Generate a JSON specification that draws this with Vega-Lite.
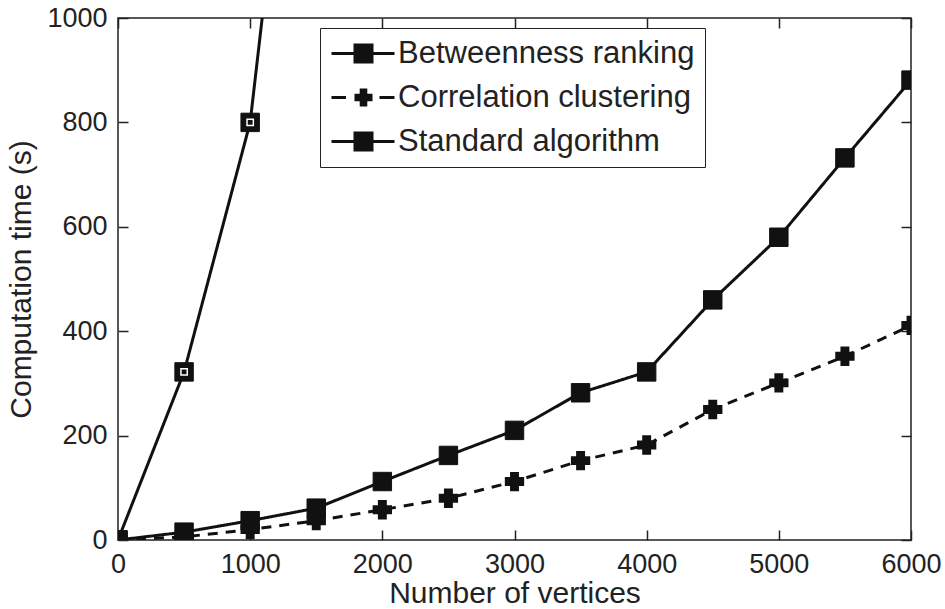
{
  "$schema": "https://vega.github.io/schema/vega-lite/v6.json",
  "width": 793,
  "height": 522,
  "autosize": "none",
  "padding": {"left": 118, "top": 18, "right": 34, "bottom": 69},
  "background": "white",
  "config": {
    "view": {"stroke": "#222", "strokeWidth": 1.5},
    "font": "Liberation Sans",
    "axis": {
      "grid": false,
      "domain": false,
      "tickColor": "#222",
      "tickWidth": 1.5,
      "labelFont": "Liberation Sans",
      "labelFontSize": 27,
      "labelColor": "#222",
      "titleFont": "Liberation Sans",
      "titleFontSize": 30,
      "titleFontWeight": "normal",
      "titleColor": "#222"
    }
  },
  "data": {
    "values": [
      {"series": "Betweenness ranking", "x": 0, "y": 0},
      {"series": "Betweenness ranking", "x": 500, "y": 15},
      {"series": "Betweenness ranking", "x": 1000, "y": 37},
      {"series": "Betweenness ranking", "x": 1500, "y": 61},
      {"series": "Betweenness ranking", "x": 2000, "y": 112},
      {"series": "Betweenness ranking", "x": 2500, "y": 162},
      {"series": "Betweenness ranking", "x": 3000, "y": 210},
      {"series": "Betweenness ranking", "x": 3500, "y": 282},
      {"series": "Betweenness ranking", "x": 4000, "y": 322},
      {"series": "Betweenness ranking", "x": 4500, "y": 460},
      {"series": "Betweenness ranking", "x": 5000, "y": 580},
      {"series": "Betweenness ranking", "x": 5500, "y": 732},
      {"series": "Betweenness ranking", "x": 6000, "y": 881},
      {"series": "Correlation clustering", "x": 0, "y": 0},
      {"series": "Correlation clustering", "x": 500, "y": 6},
      {"series": "Correlation clustering", "x": 1000, "y": 20},
      {"series": "Correlation clustering", "x": 1500, "y": 37},
      {"series": "Correlation clustering", "x": 2000, "y": 58},
      {"series": "Correlation clustering", "x": 2500, "y": 80},
      {"series": "Correlation clustering", "x": 3000, "y": 112},
      {"series": "Correlation clustering", "x": 3500, "y": 152},
      {"series": "Correlation clustering", "x": 4000, "y": 182},
      {"series": "Correlation clustering", "x": 4500, "y": 250},
      {"series": "Correlation clustering", "x": 5000, "y": 301},
      {"series": "Correlation clustering", "x": 5500, "y": 352},
      {"series": "Correlation clustering", "x": 6000, "y": 411},
      {"series": "Standard algorithm", "x": 0, "y": 0},
      {"series": "Standard algorithm", "x": 500, "y": 322},
      {"series": "Standard algorithm", "x": 1000, "y": 800},
      {"series": "Standard algorithm", "x": 1500, "y": 1900}
    ]
  },
  "layer": [
    {
      "transform": [{"filter": "datum.x === 0"}],
      "mark": {"type": "point", "filled": true, "color": "#111", "opacity": 0, "size": 400},
      "encoding": {
        "x": {"field": "x", "type": "quantitative", "axis": null},
        "y": {"field": "y", "type": "quantitative", "axis": null},
        "shape": {
          "field": "series", "type": "nominal",
          "scale": {
            "domain": ["Betweenness ranking", "Correlation clustering", "Standard algorithm"],
            "range": [
              "M-3.2,-0.15H3.1V0.15H-3.2Z M-1,-1H1V1H-1Z",
              "M-3.2,-0.15H-1.75V0.15H-3.2Z M1.6,-0.15H3.1V0.15H1.6Z M-0.38,-0.9H0.38V-0.38H0.9V0.38H0.38V0.9H-0.38V0.38H-0.9V-0.38H-0.38Z",
              "M-3.2,-0.15H3.1V0.15H-3.2Z M-1,-1H1V1H-1Z"
            ]
          },
          "legend": {
            "orient": "none",
            "legendX": 202,
            "legendY": 10,
            "title": null,
            "strokeColor": "#222",
            "fillColor": "white",
            "padding": 10,
            "labelFont": "Liberation Sans",
            "labelFontSize": 31,
            "labelColor": "#222",
            "labelLimit": 500,
            "symbolSize": 400,
            "symbolOffset": 18,
            "labelOffset": 19,
            "rowPadding": 12,
            "symbolFillColor": "#111",
            "symbolStrokeColor": "#111",
            "symbolStrokeWidth": 0,
            "symbolOpacity": 1
          }
        }
      }
    },
    {
      "mark": {"type": "line", "color": "#111", "strokeWidth": 3, "clip": true},
      "encoding": {
        "x": {
          "field": "x", "type": "quantitative",
          "scale": {"domain": [0, 6000], "nice": false, "zero": false},
          "axis": {"orient": "bottom", "values": [0, 1000, 2000, 3000, 4000, 5000, 6000], "format": "d", "ticks": false, "title": "Number of vertices", "labelPadding": 11, "titlePadding": 1, "labelFlush": false}
        },
        "y": {
          "field": "y", "type": "quantitative",
          "scale": {"domain": [0, 1000], "nice": false, "zero": false},
          "axis": {"orient": "left", "values": [0, 200, 400, 600, 800, 1000], "format": "d", "ticks": false, "title": "Computation time (s)", "labelPadding": 11, "titlePadding": 10}
        },
        "strokeDash": {
          "field": "series", "type": "nominal",
          "scale": {"domain": ["Betweenness ranking", "Correlation clustering", "Standard algorithm"], "range": [[1, 0], [10, 8], [1, 0]]},
          "legend": null
        },
        "detail": {"field": "series"}
      }
    },
    {
      "transform": [{"filter": "datum.series !== 'Correlation clustering'"}],
      "mark": {"type": "point", "filled": true, "shape": "square", "color": "#111", "size": 340, "opacity": 1, "strokeWidth": 1, "stroke": "#111", "clip": true},
      "encoding": {
        "x": {"field": "x", "type": "quantitative", "axis": {"orient": "top", "values": [0, 1000, 2000, 3000, 4000, 5000, 6000], "labels": false, "title": null, "tickSize": -10}},
        "y": {"field": "y", "type": "quantitative", "axis": {"orient": "right", "values": [0, 200, 400, 600, 800, 1000], "labels": false, "title": null, "tickSize": -10}}
      }
    },
    {
      "transform": [{"filter": "datum.series === 'Correlation clustering'"}],
      "mark": {"type": "point", "filled": true, "shape": "M-0.4,-1H0.4V-0.4H1V0.4H0.4V1H-0.4V0.4H-1V-0.4H-0.4Z", "color": "#111", "size": 300, "opacity": 1, "strokeWidth": 2, "stroke": "#111", "clip": true},
      "encoding": {
        "x": {"field": "x", "type": "quantitative", "axis": {"orient": "bottom", "values": [0, 1000, 2000, 3000, 4000, 5000, 6000], "labels": false, "title": null, "tickSize": -10}},
        "y": {"field": "y", "type": "quantitative", "axis": {"orient": "left", "values": [0, 200, 400, 600, 800, 1000], "labels": false, "title": null, "tickSize": -10}}
      }
    },
    {
      "transform": [{"filter": "datum.series === 'Standard algorithm' && datum.x > 0 && datum.y <= 1000"}],
      "mark": {"type": "point", "filled": false, "shape": "square", "color": "white", "size": 40, "strokeWidth": 1.5, "opacity": 1, "clip": true},
      "encoding": {
        "x": {"field": "x", "type": "quantitative", "axis": null},
        "y": {"field": "y", "type": "quantitative", "axis": null}
      }
    }
  ],
  "resolve": {"axis": {"x": "independent", "y": "independent"}}
}
